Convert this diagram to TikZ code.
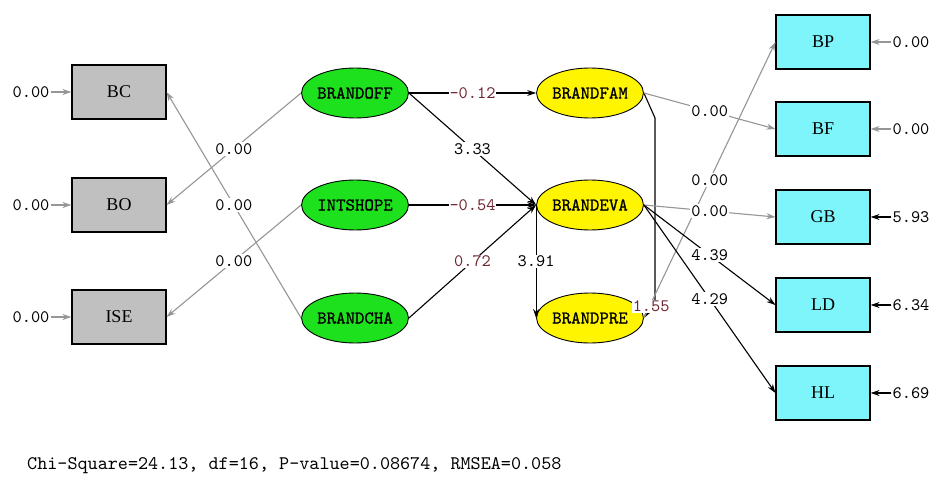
\documentclass[tikz,border=0pt]{standalone}
\usepackage{fontspec}
\setmainfont{Liberation Serif}
\newfontfamily\stmono{lmmono10-regular.otf}
\newfontfamily\stmonob[FakeBold=0.8]{lmmono10-regular.otf}
\usetikzlibrary{arrows.meta,shapes.geometric}
\definecolor{boxgray}{RGB}{192,192,192}
\definecolor{boxcyan}{RGB}{125,245,250}
\definecolor{latgreen}{RGB}{30,225,30}
\definecolor{latyellow}{RGB}{255,245,0}
\definecolor{linegray}{RGB}{150,150,150}
\definecolor{valred}{RGB}{110,40,50}
\newcommand{\valfont}{\stmono\fontsize{17.5}{17.5}\selectfont}
\newcommand{\latfont}{\stmonob\fontsize{18}{18}\selectfont}
\newcommand{\fitfont}{\stmono\fontsize{19.2}{19.2}\selectfont}
\tikzset{
  obs/.style={draw=black, line width=1.1pt, minimum width=94pt, minimum height=54pt, inner sep=0pt, font=\fontsize{18}{18}\selectfont\rmfamily},
  gbox/.style={obs, fill=boxgray},
  cbox/.style={obs, fill=boxcyan},
  lat/.style={ellipse, draw=black, line width=0.9pt, minimum width=97pt, minimum height=50pt, inner sep=0pt, font=\latfont},
  gell/.style={lat, fill=latgreen},
  yell/.style={lat, fill=latyellow},
  val/.style={fill=white, inner sep=1pt, font=\valfont},
  redval/.style={val, text=valred},
  errval/.style={inner sep=1pt, font=\valfont},
  blk/.style={draw=black, line width=1.1pt, -{Stealth[length=9pt,width=6pt]}},
  gry/.style={draw=linegray, line width=1.1pt, -{Stealth[length=9pt,width=6pt]}},
}
\begin{document}
\begin{tikzpicture}[x=1pt,y=-1pt]
\useasboundingbox[fill=white] (0,0) rectangle (933,476);

% observed left
\node[gbox] (bc)  at (119,92)  {BC};
\node[gbox] (bo)  at (119,205) {BO};
\node[gbox] (ise) at (119,317) {ISE};

% latent
\node[gell] (brandoff) at (355,93)  {BRANDOFF};
\node[gell] (intshope) at (355,205) {INTSHOPE};
\node[gell] (brandcha) at (355,318) {BRANDCHA};
\node[yell] (brandfam) at (590,93)  {BRANDFAM};
\node[yell] (brandeva) at (590,205) {BRANDEVA};
\node[yell] (brandpre) at (590,318) {BRANDPRE};

% observed right
\node[cbox] (bp) at (823,42)  {BP};
\node[cbox] (bf) at (823,129) {BF};
\node[cbox] (gb) at (823,217) {GB};
\node[cbox] (ld) at (823,305) {LD};
\node[cbox] (hl) at (823,393) {HL};

% error labels
\node[errval] (ebc)  at (31,92)  {0.00};
\node[errval] (ebo)  at (31,205) {0.00};
\node[errval] (eise) at (31,317) {0.00};
\node[errval] (ebp)  at (911,42)  {0.00};
\node[errval] (ebf)  at (911,129) {0.00};
\node[errval] (egb)  at (911,217) {5.93};
\node[errval] (eld)  at (911,305) {6.34};
\node[errval] (ehl)  at (911,393) {6.69};
\draw[gry] (ebc.east)  -- (bc.west);
\draw[gry] (ebo.east)  -- (bo.west);
\draw[gry] (eise.east) -- (ise.west);
\draw[gry] (ebp.west) -- (bp.east);
\draw[gry] (ebf.west) -- (bf.east);
\draw[blk] (egb.west) -- (gb.east);
\draw[blk] (eld.west) -- (ld.east);
\draw[blk] (ehl.west) -- (hl.east);

% left loadings
\draw[gry] (brandoff.west) -- coordinate[pos=.5] (m1) (bo.east);
\draw[gry] (brandcha.west) -- coordinate[pos=.5] (m2) (bc.east);
\draw[gry] (intshope.west) -- coordinate[pos=.5] (m3) (ise.east);

% structural paths
\draw[blk] (brandoff.east) -- coordinate[pos=.5] (m4) (brandfam.west);
\draw[blk] (brandoff.east) -- coordinate[pos=.5] (m5) (brandeva.west);
\draw[blk] (intshope.east) -- coordinate[pos=.5] (m6) (brandeva.west);
\draw[blk] (brandcha.east) -- coordinate[pos=.5] (m7) (brandeva.west);
\draw[blk] (brandeva.west) -- coordinate[pos=.5] (m8) (brandpre.west);
\coordinate (k1) at (655,118);
\coordinate (k2) at (655,300);
\draw[blk] (brandfam.east) -- (k1) -- (k2) -- coordinate[pos=.35] (m9) (brandpre.east);

% right loadings
\draw[gry] (brandfam.east) -- coordinate[pos=.5] (m10) (bf.west);
\draw[gry] (brandpre.east) -- coordinate[pos=.5] (m11) (bp.west);
\draw[gry] (brandeva.east) -- coordinate[pos=.5] (m12) (gb.west);
\draw[blk] (brandeva.east) -- coordinate[pos=.5] (m13) (ld.west);
\draw[blk] (brandeva.east) -- coordinate[pos=.5] (m14) (hl.west);

% labels
\node[val] (l1) at (m1) {0.00};
\node[val] (l2) at (m2) {0.00};
\node[val] (l3) at (m3) {0.00};
\node[redval] (l4) at (m4) {-0.12};
\node[val] (l5) at (m5) {3.33};
\node[redval] (l6) at (m6) {-0.54};
\node[redval] (l7) at (m7) {0.72};
\node[val] (l8) at (m8) {3.91};
\node[redval] (l9) at (m9) {1.55};
\node[val] (l10) at (m10) {0.00};
\node[val] (l11) at (m11) {0.00};
\node[val] (l12) at (m12) {0.00};
\node[val] (l13) at (m13) {4.39};
\node[val] (l14) at (m14) {4.29};

% fit statistics
\node[anchor=west, inner sep=0pt, font=\fitfont] (fit) at (27,466) {Chi-Square=24.13, df=16, P-value=0.08674, RMSEA=0.058};
\end{tikzpicture}
\end{document}
